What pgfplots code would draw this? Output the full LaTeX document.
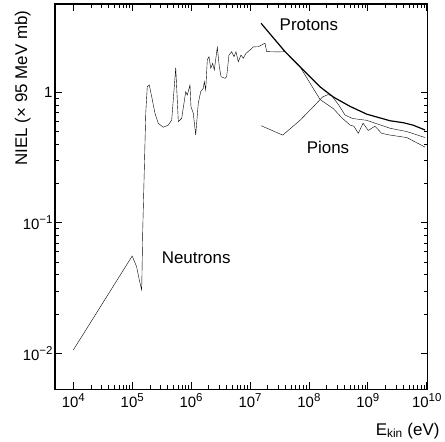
\documentclass[border=0pt]{standalone}
\usepackage{fontspec}
\setmainfont{Liberation Sans}
\usepackage{pgfplots}
\pgfplotsset{compat=1.18}

% power-of-ten tick label with a raised exponent
\newcommand{\dec}[1]{10\raisebox{0.72ex}{\fontsize{11.5}{11.5}\selectfont #1}}

\begin{document}
\begin{tikzpicture}
\begin{axis}[
  name=ax,
  xmode=log, ymode=log,
  scale only axis, width=372.7bp, height=385.3bp,
  xmin=4.89e3, xmax=1.04e10, ymin=5.3e-3, ymax=4.75,
  xtick={1e4,1e5,1e6,1e7,1e8,1e9,1e10},
  xticklabels={\dec{4},\dec{5},\dec{6},\dec{7},\dec{8},\dec{9},\dec{10}},
  ytick={1e-2,1e-1,1},
  yticklabels={\dec{−2},\dec{−1},1},
  tick label style={font=\fontsize{15}{15}\selectfont},
  xticklabel style={yshift=-1bp},
  yticklabel style={xshift=1bp},
  axis line style={line width=1.3bp, black},
  major tick length=7bp, minor tick length=4bp,
  every tick/.style={black, line width=0.8bp},
  xlabel={E\textsubscript{kin} (eV)},
  xlabel style={at={(axis description cs:1.041,-0.1186)}, anchor=base east,
                font=\fontsize{17}{17}\selectfont},
  ylabel={NIEL (× 95 MeV mb)},
  ylabel style={at={(axis description cs:-0.0751,0.9922)}, anchor=base east,
                font=\fontsize{17}{17}\selectfont},
  cycle list={{black, line width=1.2bp, mark=none}},
]
% neutrons
\addplot coordinates {
 (1e4,0.0106) (1e5,0.0557) (1.19e5,0.046) (1.32e5,0.0365) (1.45e5,0.0306)
 (1.51e5,0.088) (1.70e5,0.70) (1.803e5,1.104) (1.95e5,1.138) (2.143e5,0.925)
 (2.438e5,0.690) (2.773e5,0.578) (3.373e5,0.540) (4.102e5,0.561) (4.688e5,0.614)
 (5.483e5,1.545) (6.067e5,0.596) (6.918e5,0.632) (7.568e5,0.824) (8.091e5,1.012)
 (8.610e5,0.953) (9.572e5,1.138) (9.954e5,0.776) (1.089e6,0.690) (1.197e6,0.471)
 (1.324e6,0.824) (1.455e6,1.012) (1.611e6,1.074) (1.675e6,1.205) (1.770e6,1.042)
 (1.884e6,1.770) (2.014e6,1.875) (2.153e6,1.528) (2.328e6,1.667) (2.477e6,1.483)
 (2.786e6,2.213) (3.013e6,1.570) (3.221e6,1.318) (3.767e6,1.279) (4.018e6,1.318)
 (4.395e6,1.932) (4.887e6,2.046) (5.346e6,1.875) (5.781e6,2.046) (6.324e6,1.714)
 (7.031e6,1.932) (7.691e6,1.824) (8.551e6,1.991) (1.0e7,2.11) (1.14e7,2.23)
 (1.384e7,2.234) (1.683e7,2.344) (1.799e7,2.371) (1.92e7,2.05) (3.0e7,2.04)
 (3.93e7,2.05) (7.06e7,1.57) (1.55e8,0.88) (2.6e8,0.75) (3.6e8,0.64)
 (5.0e8,0.56) (5.8e8,0.55) (6.9e8,0.485) (8.3e8,0.58) (1.02e9,0.51)
 (1.32e9,0.55) (1.72e9,0.485) (2.4e9,0.47) (4.6e9,0.45) (9.4e9,0.38)
};
% protons
\addplot coordinates {
 (1.54e7,3.38) (3.93e7,2.05) (7.06e7,1.57) (1.55e8,1.10) (2.6e8,0.92)
 (5.0e8,0.78) (9.6e8,0.68) (2.4e9,0.605) (4.0e9,0.585) (5.9e9,0.56) (9.4e9,0.514)
};
% pions
\addplot coordinates {
 (1.54e7,0.555) (3.6e7,0.47) (7.06e7,0.61) (1.19e8,0.776) (1.7e8,0.92)
 (2.1e8,0.96) (2.45e8,0.94) (3.2e8,0.80) (4.1e8,0.67) (5.5e8,0.63)
 (9.6e8,0.61) (2.4e9,0.53) (4.6e9,0.50) (9.4e9,0.45)
};
\node[font=\fontsize{17}{17}\selectfont] at (axis cs:1e8,3.28) {Protons};
\node[font=\fontsize{17}{17}\selectfont] at (axis cs:2.11e8,0.381) {Pions};
\node[font=\fontsize{17}{17}\selectfont] at (axis cs:1.22e6,0.0537) {Neutrons};
\end{axis}
\pgfresetboundingbox
\path[use as bounding box] ([xshift=-55bp,yshift=-52.7bp]ax.south west)
  rectangle ([xshift=17.3bp,yshift=4bp]ax.north east);
\end{tikzpicture}
\end{document}
